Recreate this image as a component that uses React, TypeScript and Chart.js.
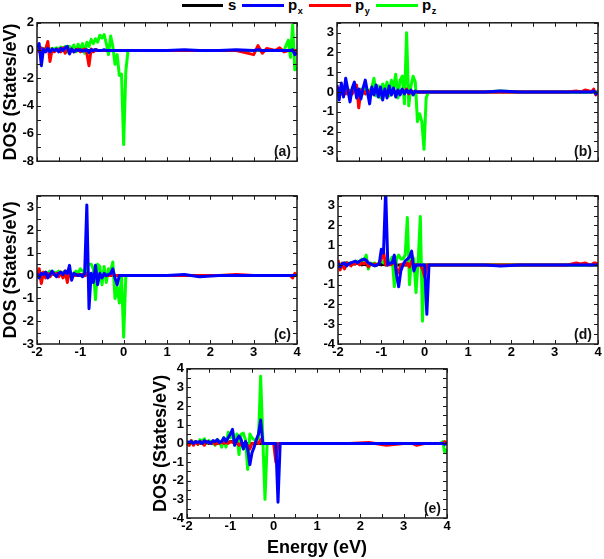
import React, { useEffect, useRef } from 'react';
import { Chart, registerables } from 'chart.js';

Chart.register(...registerables);

const FONT = '"Liberation Sans", Arial, Helvetica, sans-serif';
Chart.defaults.font.family = FONT;

// Energy grid (eV)
const energy = [
  -2, -1.95, -1.9, -1.85, -1.8, -1.75, -1.7, -1.65, -1.6, -1.55,
  -1.5, -1.45, -1.4, -1.35, -1.3, -1.25, -1.2, -1.15, -1.1, -1.05,
  -1, -0.95, -0.9, -0.85, -0.8, -0.75, -0.7, -0.65, -0.6, -0.55,
  -0.5, -0.45, -0.4, -0.35, -0.3, -0.25, -0.2, -0.15, -0.1, -0.05,
  0, 0.05, 0.1, 0.15, 0.2,
  0.3, 0.6, 1, 1.4, 1.75, 2.2, 2.6, 3, 3.1, 3.2, 3.3, 3.5, 3.6, 3.7, 3.8, 3.85, 3.9, 3.95, 4,
];

const xTickLabels = [-2, -1, 0, 1, 2, 3, 4];
const seriesNames = ['s', 'px', 'py', 'pz'];
const seriesColors = ['#000000', '#0000FF', '#FF0000', '#00FF00'];

// y tick labels per panel
const aYTicks = [-8, -6, -4, -2, 0, 2];
const bYTicks = [-3, -2, -1, 0, 1, 2, 3];
const cYTicks = [-3, -2, -1, 0, 1, 2, 3];
const dYTicks = [-4, -3, -2, -1, 0, 1, 2, 3];
const eYTicks = [-4, -3, -2, -1, 0, 1, 2, 3, 4];

// ---- Panel (a)
const aS = [
  0.1, 0.05, -0.05, 0.05, 0, 0.1, 0, 0.05, 0, 0.1,
  0.05, 0, 0.1, 0, 0.05, 0, 0.05, 0, 0, 0.05,
  0, 0, 0.05, 0, 0, 0, 0, 0.05, 0, 0,
  0, 0, 0, 0, 0, 0, 0, 0, 0, 0,
  0, 0, 0, 0, 0,
  0, 0, 0, 0, 0, 0, 0, 0, 0, 0, 0, 0, 0, 0, 0, 0, 0, 0, 0,
];
const aPx = [
  0.2, 0.5, -1.1, 0.1, -0.1, 0.15, -0.1, 0.1, 0, 0.1,
  -0.1, 0.15, 0, 0.2, 0.3, -0.25, 0.1, -0.1, 0.05, 0,
  0.05, -0.05, 0, 0.05, -0.15, 0.05, 0, 0.05, 0, 0,
  0, 0.05, 0, 0, 0, 0, 0, 0, 0, 0,
  0, 0, 0, 0, 0,
  0, 0, 0, 0.05, 0, 0, 0.05, 0, 0.05, 0, 0, 0, 0, 0, 0, 0, 0.05, -0.3, -0.15,
];
const aPy = [
  0.1, -0.1, 0.2, -0.1, 0.1, 0.65, -0.8, 0.1, -0.1, 0.05,
  0.1, -0.1, 0.2, -0.2, 0.25, -0.15, 0.1, -0.1, 0.05, 0.1,
  -0.1, 0.05, 0.1, -0.2, -1.1, 0.1, -0.1, 0.05, 0, 0,
  0, 0, 0, 0, 0, 0, 0, 0, 0, 0,
  0, 0, 0, 0, 0,
  0, 0, 0, 0, 0, 0, 0, -0.3, 0.35, -0.2, 0.15, 0, 0.2, -0.1, 0, 0, 0, 0, 0,
];
const aPz = [
  0.1, 0.2, 0.05, 0.15, 0.1, 0.2, 0.1, 0.15, 0.1, 0.2,
  0.05, 0.25, 0.1, 0.3, -0.1, 0.3, 0.1, 0.4, -0.1, 0.45,
  0.1, 0.5, -0.2, 0.6, 0.3, 0.8, 0.5, 0.85, 0.6, 1.1,
  0.9, 1.15, 0.5, -0.3, 1.05, 0.3, -1.0, -0.3, -1.8, -1.7,
  -6.8, -1.5, 0, 0, 0,
  0, 0, 0, 0, 0, 0, 0, 0, 0, 0, 0, 0, 0, 0, 0.75, -0.5, 1.85, -1.4, -1.2,
];

// ---- Panel (b)
const bS = [
  0, 0.05, 0, 0.05, 0, 0.05, 0.05, 0.1, 0.05, 0.1,
  0.05, 0.1, 0.05, 0.1, 0.05, 0.05, 0.05, 0.1, 0, 0.05,
  0, 0.05, 0, 0.05, 0, 0, 0.05, 0, 0.05, 0.05,
  0.1, 0.1, 0.05, 0, 0, 0, 0, 0, 0, 0,
  0, 0, 0, 0, 0,
  0, 0, 0, 0, 0, 0, 0, 0, 0, 0, 0, 0, 0, 0, 0, 0, 0, 0, 0,
];
const bPx = [
  0.35, -0.4, 0.45, -0.25, 0.7, 0.1, -0.5, 0.2, 0.5, -0.3,
  0.15, -0.35, 0.2, 0.6, 0, -0.6, 0.25, -0.15, 0.35, -0.25,
  0.25, -0.4, 0.15, -0.3, 0.3, -0.15, 0.2, -0.25, 0.1, -0.15,
  0.15, -0.1, 0.1, -0.05, 0.1, -0.15, 0.05, 0, 0, 0,
  0, 0, 0, 0, 0,
  0, 0, 0, 0, 0.05, 0, 0, 0, 0, 0, 0, 0, 0, 0, 0, 0, 0.05, -0.1, 0,
];
const bPy = [
  0.1, 0.2, -0.1, 0.15, -0.1, 0.1, 0.05, -0.1, 0.1, 0.35,
  -0.8, 0.1, 0.05, -0.1, 0.1, 0, -0.05, 0.05, 0, 0.05,
  0, -0.05, 0.05, 0, 0, 0.05, 0, 0, 0.05, 0,
  0.05, 0, 0.15, -0.1, 0, 0, 0, 0, 0, 0,
  0, 0, 0, 0, 0,
  0, 0, 0, 0, 0, 0, 0, 0, 0, 0, 0, 0.05, 0, 0.1, 0.05, 0, 0.15, -0.15, 0,
];
const bPz = [
  0.1, -0.1, 0.2, 0, 0.15, -0.1, 0.1, 0.05, 0.2, -0.05,
  0.1, 0.15, -0.1, 0.2, -0.1, 0.1, 0.2, 0.7, -0.2, 0.3,
  -0.3, 0.4, 0.1, 0.5, -0.2, 0.6, 0.2, 0.9, -0.3, 0.6,
  0.8, -0.6, 3.0, -0.7, 0.3, 0.8, 0.5, -1.5, -1.1, -1.5,
  -2.9, -0.3, 0, 0, 0,
  0, 0, 0, 0, 0.05, 0, 0, 0, 0, 0, 0, 0, 0, 0, 0, 0, 0, 0, 0,
];

// ---- Panel (c)
const cS = [
  0.05, 0, 0.05, 0.1, 0.05, 0.1, 0.1, 0.05, 0.1, 0.05,
  0.05, 0.05, 0, 0.05, 0, 0.05, 0, 0.05, 0, 0.05,
  0, 0.05, 0, 0.05, 0, 0, 0, 0, 0, 0,
  0, 0, 0, 0, 0, 0, 0, 0, 0, 0,
  0, 0, 0, 0, 0,
  0, 0, 0, 0, 0, 0, 0, 0, 0, 0, 0, 0, 0, 0, 0, 0, 0, 0, 0,
];
const cPx = [
  0.1, -0.1, 0.1, 0.05, 0.15, -0.1, 0.05, 0.2, 0.05, -0.05,
  0.1, 0.15, 0.05, 0.2, 0.1, 0.45, -0.2, 0.1, 0.05, 0,
  0.05, -0.05, 0.1, 3.1, -1.45, 0.1, -0.3, 0.45, -0.4, 0.1,
  -0.1, 0.1, 0, 0.05, 0.1, 0.3, -0.1, -0.4, 0, 0,
  0, 0, 0, 0, 0,
  0, 0, 0, 0.05, -0.05, 0, 0, 0, 0, 0, 0, 0, 0, 0, 0, 0, 0, 0, 0,
];
const cPy = [
  -0.1, 0.3, -0.35, 0.15, -0.1, 0.1, -0.05, 0.1, 0.05, 0.1,
  -0.05, 0.15, -0.1, 0.2, -0.3, 0.2, -0.1, 0.05, 0, 0.05,
  0, 0.05, 0, 0.1, -0.1, 0, 0.05, 0, 0, 0,
  0, 0, 0, 0, 0, 0.05, 0, 0, 0, 0,
  0, 0, 0, 0, 0,
  0, 0, 0, 0, 0, 0, 0.05, 0, 0, 0, 0, 0, 0, 0, 0, 0, -0.1, 0.1, 0,
];
const cPz = [
  0.05, -0.1, 0.1, 0.15, 0.05, 0.1, 0.2, 0.05, 0.15, 0.1,
  0.2, 0.1, 0.15, -0.05, 0.1, 0.2, 0, 0.1, 0.2, 0.1,
  0.3, 0.2, 0.1, 0.5, 0.5, 0.5, 0.3, -1.05, 0.5, 0.4,
  -0.4, 0.4, -0.3, 0.3, 0.2, 0.6, -1.0, -0.5, -1.2, 0,
  -2.7, 0, 0, 0, 0,
  0, 0, 0, 0, 0, 0, 0, 0, 0, 0, 0, 0, 0, 0, 0, 0, 0, 0, 0,
];

// ---- Panel (d)
const dS = [
  0.05, 0, 0.05, 0.05, 0.1, 0.05, 0.1, 0.05, 0.05, 0.1,
  0.05, 0, 0.05, 0, 0.05, 0, 0.05, 0, 0, 0.05,
  0, 0.05, 0, 0, 0.05, 0, 0, 0, 0, 0,
  0, 0, 0, 0, 0, 0, 0, 0, 0, 0,
  0, 0, 0, 0, 0,
  0, 0, 0, 0, 0, 0, 0, 0, 0, 0, 0, 0, 0, 0, 0, 0, 0, 0, 0,
];
const dPx = [
  0.1, -0.1, 0.05, 0.1, -0.05, 0.05, 0.1, 0.15, 0.2, 0.1,
  0.2, 0.25, 0.3, 0.25, 0.1, 0.05, 0, -0.05, 0, 0.05,
  0.8, 0.6, 3.8, 0, 0.1, 0.1, 0.5, -0.5, -1.1, -0.3,
  0, 0.2, 0.3, 0.4, 0.7, -0.3, 0, 0, 0, 0,
  0, -2.5, 0, 0, 0,
  0, 0, 0, 0, -0.05, 0, 0, 0, 0, 0, 0, 0, 0, 0, 0, 0, 0, 0, 0,
];
const dPy = [
  0.25, -0.25, 0.1, -0.2, 0.1, 0.05, -0.05, 0.1, 0.05, 0.1,
  0, 0.1, 0.05, 0.15, -0.1, 0.05, 0, 0.05, 0, 0.1,
  0.3, 0.7, 0, 0.1, 0, 0.05, 0.2, -0.2, -0.4, 0,
  0.05, 0, 0.1, -0.1, 0.2, 0, 0, 0, 0, -0.2,
  -0.6, 0, 0, 0, 0,
  0, 0, 0, 0, 0, 0, 0, 0, 0, 0, 0, 0.1, 0.05, 0.1, 0, 0, 0.1, 0.1, 0,
];
const dPz = [
  0.1, 0.05, -0.1, 0.1, 0.05, 0.1, 0, 0.15, 0.1, 0.2,
  0.15, 0.3, 0.2, 0.5, -0.2, 0.1, 0.05, 0.1, 0, 0.1,
  0.2, 0.1, 0.3, 0.05, 0.2, 0.4, -1.1, 0.3, 0.5, 0.3,
  0.3, 0.5, 2.4, -1.0, 0.5, 0.3, -1.4, 0.2, 2.45, -2.85,
  0, 0, 0, 0, 0,
  0, 0, 0, 0, 0, 0, 0, 0, 0, 0, 0, 0, 0, 0, 0, 0, 0, 0, 0,
];

// ---- Panel (e)
const eS = [
  0.05, 0, 0.05, 0, 0.05, 0.05, 0, 0.05, 0, 0.05,
  0, 0.05, 0, 0.05, 0, 0.05, 0, 0.05, 0, 0.05,
  0.1, 0.1, 0, 0.05, 0, 0, 0, 0, 0, 0,
  0, 0, 0, 0, 0, 0, 0, 0, 0, 0,
  0, 0, 0, 0, 0,
  0, 0, 0, 0, 0, 0, 0, 0, 0, 0, 0, 0, 0, 0, 0, 0, 0, 0, 0,
];
const ePx = [
  0.1, 0.05, 0.1, 0, 0.1, 0.05, 0.1, 0, 0.15, 0.05,
  0.1, 0, 0.15, 0.1, 0.2, 0.05, 0.1, 0.3, 0.1, 0.3,
  0.5, 0.75, -0.1, 0.2, 0.4, 0.2, -0.3, 0.1, -0.3, -1.15,
  -0.5, -0.2, 0.2, 0.5, 1.25, 0, 0, 0, 0, 0,
  0, 0, -3.15, 0, 0,
  0, 0, 0, 0, 0, 0, 0, 0, 0, 0, 0, 0, 0, 0, 0, 0, 0, -0.05, 0,
];
const ePy = [
  0.05, -0.1, 0.15, -0.1, 0.1, -0.05, 0.1, 0.05, -0.1, 0.1,
  0.05, 0, 0.1, -0.05, 0.05, 0, 0.1, 0, 0.05, 0,
  0.1, 0.05, 0, 0.05, -0.1, 0, -0.2, 0, -0.1, -0.3,
  0, 0, 0.05, 0, 0.2, 0, 0, 0, 0, 0,
  0, -1.0, 0, 0, 0,
  0, 0, 0, 0, 0, 0.05, -0.1, 0, 0, 0, -0.1, 0, 0, 0, 0, 0, 0, 0.1, 0,
];
const ePz = [
  0.1, -0.1, 0.15, 0.05, 0.1, -0.05, 0.2, 0.1, 0.25, 0,
  0.15, 0.1, 0.05, -0.1, 0.2, 0.1, -0.2, 0.3, -0.2, 0.6,
  0.3, 0.65, -0.1, 0.5, -0.6, 0.5, 0.55, 0.2, -1.4, 0.5,
  0.3, 0.2, 0.1, 0.3, 3.6, 0.2, -3.0, 0, 0, 0,
  0, 0, 0, 0, 0,
  0, 0, 0, 0, 0, 0, 0, 0, 0, 0, 0, 0, 0, 0, 0, 0, 0.1, -0.5, -0.3,
];

type PanelCfg = {
  label: string;
  plotLeft: number;
  plotTop: number;
  plotW: number;
  plotH: number;
  yMin: number;
  yMax: number;
  yTicks: number[];
  yMinor: number;
  showX: boolean;
  yTitle: boolean;
  xTitle: boolean;
  series: number[][];
};

const panels: PanelCfg[] = [
  { label: '(a)', plotLeft: 37, plotTop: 22, plotW: 260, plotH: 150, yMin: -8, yMax: 2, yTicks: aYTicks, yMinor: 1, showX: false, yTitle: true, xTitle: false, series: [aS, aPx, aPy, aPz] },
  { label: '(b)', plotLeft: 337, plotTop: 22, plotW: 261, plotH: 150, yMin: -3.5, yMax: 3.5, yTicks: bYTicks, yMinor: 0.5, showX: false, yTitle: false, xTitle: false, series: [bS, bPx, bPy, bPz] },
  { label: '(c)', plotLeft: 37, plotTop: 195, plotW: 260, plotH: 149, yMin: -3, yMax: 3.5, yTicks: cYTicks, yMinor: 0.5, showX: true, yTitle: true, xTitle: false, series: [cS, cPx, cPy, cPz] },
  { label: '(d)', plotLeft: 338, plotTop: 195, plotW: 260, plotH: 149, yMin: -4, yMax: 3.5, yTicks: dYTicks, yMinor: 0.5, showX: true, yTitle: false, xTitle: false, series: [dS, dPx, dPy, dPz] },
  { label: '(e)', plotLeft: 187, plotTop: 368, plotW: 260, plotH: 150, yMin: -4, yMax: 4, yTicks: eYTicks, yMinor: 0.5, showX: true, yTitle: true, xTitle: true, series: [eS, ePx, ePy, ePz] },
];

const Y_AXIS_W = 37;
const PAD_T = 10;
const PAD_R = 6;

const framePlugin = {
  id: 'frame',
  afterDatasetsDraw(chart: any, _args: any, opts: any) {
    const { ctx, chartArea } = chart;
    const { left, right, top, bottom } = chartArea;
    const xs = chart.scales.x;
    const ys = chart.scales.y;
    ctx.save();
    ctx.strokeStyle = '#1a1a1a';
    ctx.lineWidth = 1;
    ctx.beginPath();
    const tl = 4;
    const xm = opts.xMinor;
    for (let v = Math.ceil(xs.min / xm - 1e-9) * xm; v <= xs.max + 1e-9; v += xm) {
      const p = Math.round(xs.getPixelForValue(v)) + 0.5;
      ctx.moveTo(p, bottom);
      ctx.lineTo(p, bottom - tl);
      ctx.moveTo(p, top);
      ctx.lineTo(p, top + tl);
    }
    const ym = opts.yMinor;
    for (let v = Math.ceil(ys.min / ym - 1e-9) * ym; v <= ys.max + 1e-9; v += ym) {
      const p = Math.round(ys.getPixelForValue(v)) + 0.5;
      ctx.moveTo(left, p);
      ctx.lineTo(left + tl, p);
      ctx.moveTo(right, p);
      ctx.lineTo(right - tl, p);
    }
    ctx.stroke();
    ctx.lineWidth = 1.5;
    ctx.strokeRect(left, top, right - left, bottom - top);
    ctx.fillStyle = '#111';
    ctx.font = `bold 14px ${FONT}`;
    ctx.textAlign = 'right';
    ctx.textBaseline = 'alphabetic';
    ctx.fillText(opts.label, right - 6, bottom - 5);
    ctx.restore();
  },
};

function Panel({ cfg }: { cfg: PanelCfg }) {
  const ref = useRef<HTMLCanvasElement | null>(null);
  const xAxisH = cfg.xTitle ? 41 : cfg.showX ? 20 : 0;
  const width = Y_AXIS_W + cfg.plotW + PAD_R;
  const height = PAD_T + cfg.plotH + xAxisH;

  useEffect(() => {
    if (!ref.current) return;
    const tickFont = { size: 13, weight: 'bold' as const, family: FONT };
    const order = [3, 0, 1, 2];
    const chart = new Chart(ref.current, {
      type: 'line',
      data: {
        datasets: cfg.series.map((vals, k) => ({
          label: seriesNames[k],
          data: vals.map((y, i) => ({ x: energy[i], y })),
          borderColor: seriesColors[k],
          backgroundColor: seriesColors[k],
          borderWidth: 3,
          borderJoinStyle: 'round',
          pointRadius: 0,
          tension: 0,
          fill: false,
          order: order[k],
        })),
      },
      options: {
        animation: false,
        responsive: false,
        devicePixelRatio: 1,
        layout: { padding: { top: PAD_T, right: PAD_R, bottom: 0, left: 0 } },
        plugins: {
          legend: { display: false },
          tooltip: { enabled: false },
          frame: { xMinor: 0.5, yMinor: cfg.yMinor, label: cfg.label },
        } as any,
        scales: {
          x: {
            type: 'linear',
            min: xTickLabels[0],
            max: xTickLabels[xTickLabels.length - 1],
            grid: { display: false, drawTicks: false },
            border: { display: false },
            ticks: { display: cfg.showX, padding: 1, color: '#000', font: tickFont, maxRotation: 0 },
            title: {
              display: cfg.xTitle,
              text: 'Energy (eV)',
              color: '#000',
              font: { size: 18, weight: 'bold', family: FONT },
              padding: 0,
            },
            afterBuildTicks: (s: any) => {
              s.ticks = xTickLabels.map((v) => ({ value: v }));
            },
            afterFit: (s: any) => {
              s.height = xAxisH;
            },
          },
          y: {
            type: 'linear',
            min: cfg.yMin,
            max: cfg.yMax,
            grid: { display: false, drawTicks: false },
            border: { display: false },
            ticks: { padding: 3, color: '#000', font: tickFont },
            title: {
              display: cfg.yTitle,
              text: 'DOS (States/eV)',
              color: '#000',
              font: { size: 18, weight: 'bold', family: FONT },
              padding: 0,
            },
            afterBuildTicks: (s: any) => {
              s.ticks = cfg.yTicks.map((v) => ({ value: v }));
            },
            afterFit: (s: any) => {
              s.width = Y_AXIS_W;
            },
          },
        },
      } as any,
      plugins: [framePlugin],
    });
    return () => chart.destroy();
  }, []);

  return (
    <div
      style={{
        position: 'absolute',
        left: cfg.plotLeft - Y_AXIS_W,
        top: cfg.plotTop - PAD_T,
        width,
        height,
      }}
    >
      <canvas ref={ref} width={width} height={height} style={{ display: 'block', width, height }} />
    </div>
  );
}

const legendLayout = [
  { lineLeft: 182, lineW: 41, textLeft: 228, sub: '' },
  { lineLeft: 242, lineW: 42, textLeft: 288, sub: 'x' },
  { lineLeft: 309, lineW: 42, textLeft: 355, sub: 'y' },
  { lineLeft: 376, lineW: 42, textLeft: 422, sub: 'z' },
];

function Legend() {
  return (
    <>
      {legendLayout.map((it, k) => (
        <React.Fragment key={k}>
          <div
            style={{
              position: 'absolute',
              left: it.lineLeft,
              top: 3.5,
              width: it.lineW,
              height: 3,
              background: seriesColors[k],
            }}
          />
          <span
            style={{
              position: 'absolute',
              left: it.textLeft,
              top: -3,
              font: `bold 15px ${FONT}`,
              lineHeight: '15px',
              color: '#000',
              whiteSpace: 'nowrap',
            }}
          >
            {seriesNames[k].charAt(0)}
            {it.sub ? (
              <span style={{ font: `bold 9px ${FONT}`, position: 'relative', top: 4, marginLeft: 0.5 }}>{it.sub}</span>
            ) : null}
          </span>
        </React.Fragment>
      ))}
    </>
  );
}

export default function App() {
  return (
    <div
      style={{
        position: 'absolute',
        left: 0,
        top: 0,
        width: 604,
        height: 559,
        overflow: 'hidden',
        background: '#fff',
        fontFamily: FONT,
      }}
    >
      <Legend />
      {panels.map((p) => (
        <Panel key={p.label} cfg={p} />
      ))}
    </div>
  );
}
